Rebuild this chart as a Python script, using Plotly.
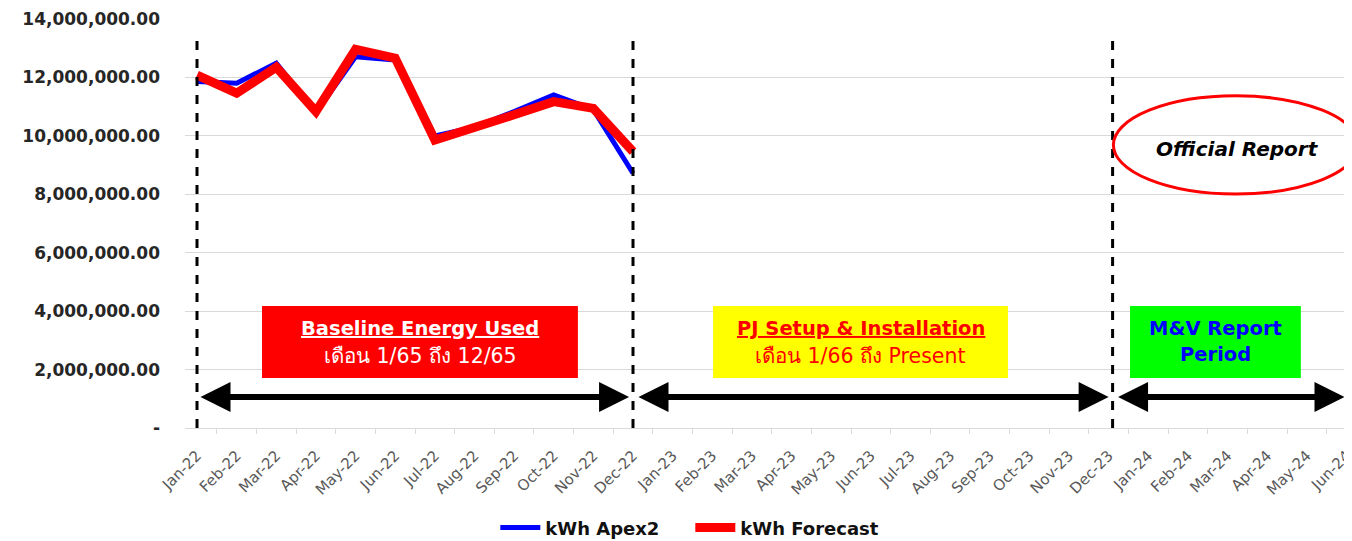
import plotly.graph_objects as go

months = [
    "Jan-22", "Feb-22", "Mar-22", "Apr-22", "May-22", "Jun-22", "Jul-22", "Aug-22",
    "Sep-22", "Oct-22", "Nov-22", "Dec-22", "Jan-23", "Feb-23", "Mar-23", "Apr-23",
    "May-23", "Jun-23", "Jul-23", "Aug-23", "Sep-23", "Oct-23", "Nov-23", "Dec-23",
    "Jan-24", "Feb-24", "Mar-24", "Apr-24", "May-24", "Jun-24",
]
kwh_apex2 = [
    11860000, 11800000, 12490000, 10800000, 12710000, 12600000,
    10000000, 10300000, 10830000, 11400000, 10900000, 8720000,
]
kwh_forecast = [
    12080000, 11460000, 12350000, 10830000, 12960000, 12660000,
    9860000, 10260000, 10720000, 11170000, 10940000, 9460000,
]
y_ticks = [0, 2000000, 4000000, 6000000, 8000000, 10000000, 12000000, 14000000]
y_tick_text = ["-"] + [f"{v:,.2f}" for v in y_ticks[1:]]

FONT = "'DejaVu Sans', Verdana, sans-serif"

fig = go.Figure()
fig.add_trace(go.Scatter(
    x=months[:len(kwh_apex2)], y=kwh_apex2, mode="lines", name="kWh Apex2",
    line=dict(color="#0000ff", width=5),
))
fig.add_trace(go.Scatter(
    x=months[:len(kwh_forecast)], y=kwh_forecast, mode="lines", name="kWh Forecast",
    line=dict(color="#ff0000", width=9),
))

# dashed period separators
for xv in [0, 11, 23.1]:
    fig.add_shape(type="line", x0=xv, x1=xv, y0=0, y1=13300000, xref="x", yref="y",
                  line=dict(color="black", width=3, dash="dash"))

# coloured period boxes
boxes = [
    (1.64, 9.61, "#ff0000"),
    (13.02, 20.46, "#ffff00"),
    (23.54, 27.85, "#00ff00"),
]
for x0, x1, col in boxes:
    fig.add_shape(type="rect", x0=x0, x1=x1, y0=1710000, y1=4180000, xref="x", yref="y",
                  fillcolor=col, line=dict(width=0), layer="above")

# box labels, one annotation per line
box_labels = [
    (5.63, 3390000, "<b><u>Baseline Energy Used</u></b>", "white", 19.5),
    (5.63, 2460000, "เดือน 1/65 ถึง 12/65", "white", 20.5),
    (16.74, 3390000, "<b><u>PJ Setup & Installation</u></b>", "#ff0000", 19.5),
    (16.74, 2460000, "เดือน 1/66 ถึง Present", "#ff0000", 20.5),
    (25.7, 3390000, "<b>M&V Report</b>", "#0000ff", 19.5),
    (25.7, 2530000, "<b>Period</b>", "#0000ff", 19.5),
]
for xv, yv, txt, col, sz in box_labels:
    fig.add_annotation(x=xv, y=yv, xref="x", yref="y", showarrow=False, text=txt,
                       font=dict(family=FONT, size=sz, color=col))

# double headed arrows
for xa, xb in [(0.05, 10.9), (11.1, 23.0), (23.2, 28.95)]:
    fig.add_annotation(x=xb, y=1060000, ax=xa, ay=1060000, xref="x", yref="y",
                       axref="x", ayref="y", text="", showarrow=True,
                       arrowhead=2, arrowside="end+start", arrowwidth=6,
                       arrowsize=1.0, arrowcolor="black")

# official report ellipse
fig.add_shape(type="circle", x0=23.12, x1=29.3, y0=8010000, y1=11370000, xref="x", yref="y",
              line=dict(color="#ff0000", width=3))
fig.add_annotation(x=26.26, y=9560000, xref="x", yref="y", showarrow=False,
                   text="<b><i>Official Report</i></b>",
                   font=dict(family=FONT, size=20, color="black"))

# page body has an 8px margin, so margins are trimmed by that much
fig.update_layout(
    width=1352, height=541,
    margin=dict(l=177, r=8, t=11, b=121, autoexpand=False),
    plot_bgcolor="white", paper_bgcolor="white",
    showlegend=True,
    legend=dict(orientation="h", x=0.433, y=-0.244, xanchor="center", yanchor="middle",
                font=dict(family=FONT, size=18, color="#111111", weight="bold"),
                itemwidth=40, tracegroupgap=0, entrywidth=140, entrywidthmode="pixels"),
)
fig.update_xaxes(
    type="category", categoryorder="array", categoryarray=months,
    range=[-0.303, 29.14], tickangle=-45, showgrid=False, automargin=False,
    showline=True, linecolor="#d9d9d9", ticks="outside", tickcolor="#d9d9d9",
    ticklen=5, tickson="boundaries", ticklabelstandoff=12,
    tickfont=dict(family=FONT, size=15, color="#595959"),
)
fig.update_yaxes(
    range=[0, 14000000], tickvals=y_ticks, ticktext=y_tick_text, automargin=False,
    showgrid=True, gridcolor="#d9d9d9", zeroline=False,
    tickfont=dict(family=FONT, size=17, color="#262626", weight="bold"),
    ticklabelstandoff=24,
)

fig.write_html("out.html")
